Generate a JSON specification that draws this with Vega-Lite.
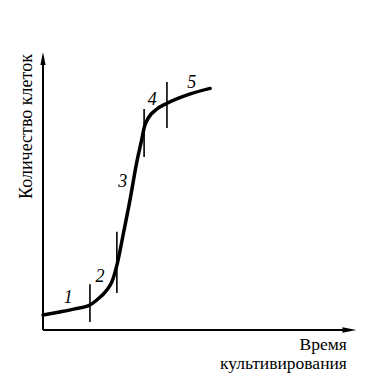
{
  "$schema": "https://vega.github.io/schema/vega-lite/v6.json",
  "width": 313,
  "height": 278,
  "autosize": {"type": "none"},
  "padding": {"left": 43, "top": 52, "right": 22, "bottom": 55},
  "background": "white",
  "config": {"view": {"stroke": null}},
  "datasets": {
    "curve": [
      {"t": 0, "n": 0.54},
      {"t": 0.54, "n": 0.65},
      {"t": 1.02, "n": 0.76},
      {"t": 1.5, "n": 0.9},
      {"t": 1.72, "n": 1.08},
      {"t": 2.04, "n": 1.44},
      {"t": 2.2, "n": 1.73},
      {"t": 2.37, "n": 2.37},
      {"t": 2.57, "n": 3.48},
      {"t": 2.78, "n": 4.68},
      {"t": 2.99, "n": 6.0},
      {"t": 3.15, "n": 6.83},
      {"t": 3.24, "n": 7.31},
      {"t": 3.36, "n": 7.62},
      {"t": 3.63, "n": 7.94},
      {"t": 3.95, "n": 8.15},
      {"t": 4.59, "n": 8.45},
      {"t": 5.34, "n": 8.69}
    ],
    "ticks": [
      {"t": 1.5, "lo": 0.29, "hi": 1.65},
      {"t": 2.36, "lo": 1.33, "hi": 3.53},
      {"t": 3.23, "lo": 6.22, "hi": 7.95},
      {"t": 3.96, "lo": 7.27, "hi": 8.92}
    ],
    "phases": [
      {"t": 0.81, "n": 1.14, "label": "1"},
      {"t": 1.82, "n": 1.92, "label": "2"},
      {"t": 2.55, "n": 5.33, "label": "3"},
      {"t": 3.49, "n": 8.27, "label": "4"},
      {"t": 4.75, "n": 8.9, "label": "5"}
    ],
    "axes": [
      {"t": 0, "n": 0, "t2": 0, "n2": 9.7},
      {"t": 0, "n": 0, "t2": 9.7, "n2": 0}
    ],
    "arrows": [
      {"t": 0, "n": 9.77, "dir": "up"},
      {"t": 9.79, "n": 0, "dir": "right"}
    ],
    "ytitle": [
      {"t": -0.5, "n": 7.32, "label": "Количество клеток"}
    ],
    "xtitle": [
      {"t": 9.71, "n": -0.55, "label": "Время"},
      {"t": 9.71, "n": -1.22, "label": "культивирования"}
    ]
  },
  "layer": [
    {
      "data": {"name": "axes"},
      "mark": {"type": "rule", "color": "black", "strokeWidth": 2, "clip": false},
      "encoding": {
        "x": {"field": "t", "type": "quantitative", "scale": {"domain": [0, 10]}, "axis": null},
        "y": {"field": "n", "type": "quantitative", "scale": {"domain": [0, 10]}, "axis": null},
        "x2": {"field": "t2"},
        "y2": {"field": "n2"}
      }
    },
    {
      "data": {"name": "arrows"},
      "transform": [{"filter": "datum.dir === 'up'"}],
      "mark": {"type": "point", "shape": "M0,-1L0.4,1L-0.4,1Z", "filled": true, "color": "black", "opacity": 1, "size": 169, "clip": false},
      "encoding": {
        "x": {"field": "t", "type": "quantitative"},
        "y": {"field": "n", "type": "quantitative"}
      }
    },
    {
      "data": {"name": "arrows"},
      "transform": [{"filter": "datum.dir === 'right'"}],
      "mark": {"type": "point", "shape": "M1,0L-1,0.4L-1,-0.4Z", "filled": true, "color": "black", "opacity": 1, "size": 196, "clip": false},
      "encoding": {
        "x": {"field": "t", "type": "quantitative"},
        "y": {"field": "n", "type": "quantitative"}
      }
    },
    {
      "data": {"name": "curve"},
      "mark": {"type": "line", "interpolate": "monotone", "color": "black", "strokeWidth": 3.5, "strokeCap": "round"},
      "encoding": {
        "x": {"field": "t", "type": "quantitative"},
        "y": {"field": "n", "type": "quantitative"}
      }
    },
    {
      "data": {"name": "ticks"},
      "mark": {"type": "rule", "color": "black", "strokeWidth": 1.6},
      "encoding": {
        "x": {"field": "t", "type": "quantitative"},
        "y": {"field": "lo", "type": "quantitative"},
        "y2": {"field": "hi"}
      }
    },
    {
      "data": {"name": "phases"},
      "mark": {"type": "text", "font": "Liberation Serif", "fontStyle": "italic", "fontSize": 18, "align": "center", "baseline": "middle", "color": "black"},
      "encoding": {
        "x": {"field": "t", "type": "quantitative"},
        "y": {"field": "n", "type": "quantitative"},
        "text": {"field": "label"}
      }
    },
    {
      "data": {"name": "ytitle"},
      "mark": {"type": "text", "font": "Liberation Serif", "fontSize": 18, "angle": 270, "align": "center", "baseline": "middle", "color": "black", "clip": false},
      "encoding": {
        "x": {"field": "t", "type": "quantitative"},
        "y": {"field": "n", "type": "quantitative"},
        "text": {"field": "label"}
      }
    },
    {
      "data": {"name": "xtitle"},
      "mark": {"type": "text", "font": "Liberation Serif", "fontSize": 17.5, "align": "right", "baseline": "middle", "color": "black", "clip": false},
      "encoding": {
        "x": {"field": "t", "type": "quantitative"},
        "y": {"field": "n", "type": "quantitative"},
        "text": {"field": "label"}
      }
    }
  ]
}
